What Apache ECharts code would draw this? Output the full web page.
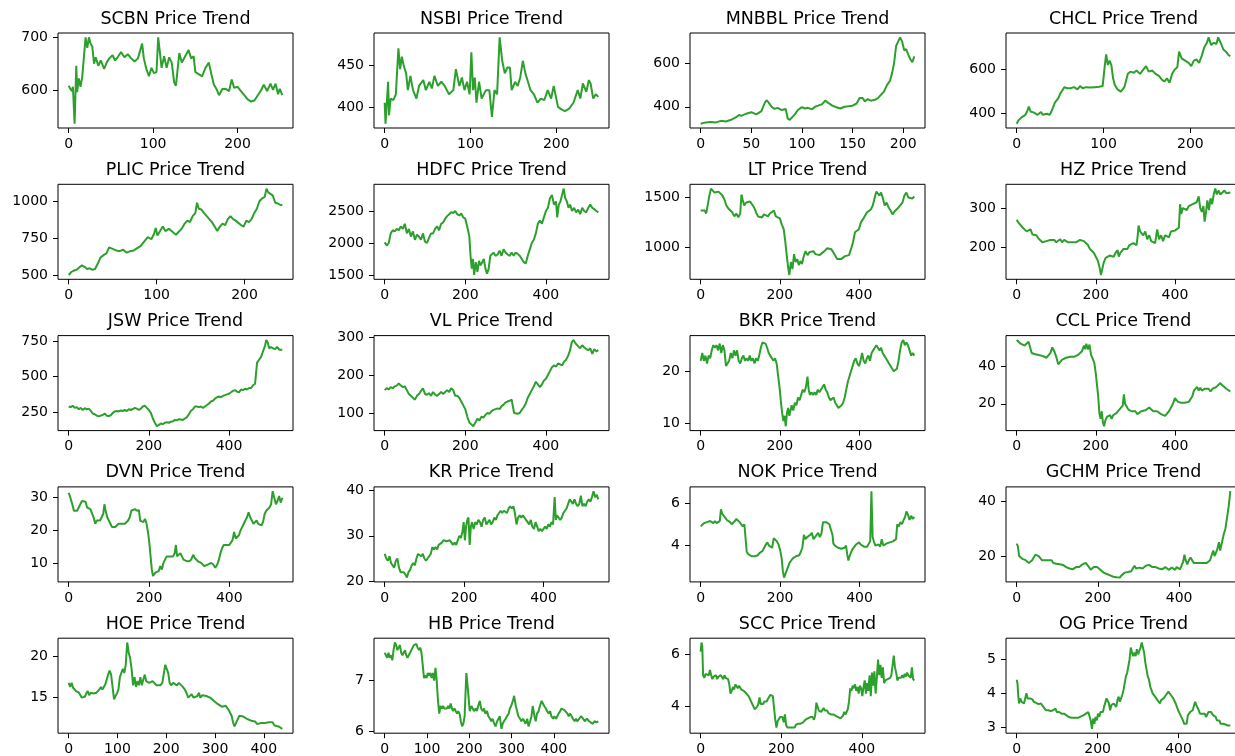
<!DOCTYPE html>
<html><head><meta charset="utf-8">
<script src="https://cdn.jsdelivr.net/npm/echarts@6/dist/echarts.min.js"></script>
<style>html,body{margin:0;padding:0;background:#fff}#c{width:1235px;height:756px}</style>
</head><body><div id="c"></div>
<script>
const tickers = ['SCBN','NSBI','MNBBL','CHCL','PLIC','HDFC','LT','HZ','JSW','VL','BKR','CCL','DVN','KR','NOK','GCHM','HOE','HB','SCC','OG'];

const scbn = [[0,608],[2,602],[4,598],[5,606],[7,536],[9,646],[10,596],[12,622],[14,606],[16,624],[18,622],[20,700],[22,680],[24,700],[26,688],[28,682],[30,650],[32,662],[35,646],[38,656],[42,640],[45,652],[48,660],[52,666],[55,656],[58,662],[62,672],[66,662],[70,668],[74,660],[78,654],[82,660],[87,688],[89,660],[92,640],[95,626],[98,642],[101,632],[104,634],[106,700],[108,672],[110,642],[113,664],[116,642],[119,662],[122,652],[125,614],[127,608],[131,670],[134,652],[138,664],[142,676],[145,660],[148,664],[150,634],[154,630],[158,626],[162,642],[166,652],[169,630],[172,610],[175,602],[178,590],[182,602],[186,602],[190,598],[193,620],[196,604],[200,606],[204,598],[208,590],[212,582],[216,578],[220,580],[224,590],[228,600],[231,610],[235,598],[239,612],[242,600],[245,612],[248,592],[250,602],[253,590]];
const nsbi = [[0,405],[1,380],[4,430],[5,390],[7,410],[10,408],[13,415],[16,470],[18,445],[20,460],[22,450],[25,440],[27,420],[30,437],[33,420],[37,410],[40,425],[45,432],[48,420],[52,430],[55,422],[58,437],[62,425],[66,430],[70,425],[75,415],[80,420],[83,445],[87,425],[90,435],[93,420],[96,430],[99,415],[101,465],[103,420],[105,435],[107,405],[110,430],[113,410],[118,420],[122,420],[125,388],[128,420],[131,415],[134,483],[137,455],[140,440],[143,447],[146,447],[148,420],[152,430],[155,425],[158,435],[161,455],[164,440],[167,430],[170,420],[174,415],[178,405],[182,410],[186,408],[190,420],[194,410],[197,425],[202,400],[206,397],[210,395],[215,398],[220,405],[225,420],[228,410],[231,428],[235,418],[238,432],[240,428],[243,410],[246,415],[249,412]];
const mnbbl = [[0,322],[5,328],[10,330],[15,328],[20,335],[25,332],[30,340],[35,352],[38,362],[40,358],[45,368],[50,375],[55,365],[60,380],[63,415],[65,430],[67,420],[70,400],[73,390],[76,395],[80,385],[84,390],[86,345],[88,340],[90,350],[93,365],[96,385],[100,398],[103,392],[106,395],[110,388],[113,400],[116,405],[120,412],[123,428],[126,418],[130,405],[134,398],[138,392],[142,400],[146,402],[150,405],[154,415],[157,440],[160,440],[162,425],[165,435],[168,428],[172,432],[175,440],[178,455],[181,470],[184,500],[187,520],[189,555],[191,600],[193,680],[195,700],[197,720],[199,700],[201,660],[203,665],[205,640],[207,620],[209,605],[211,632]];
const chcl = [[0,355],[2,370],[4,365],[6,385],[8,390],[10,395],[12,410],[14,432],[16,410],[18,415],[20,405],[22,410],[24,395],[26,390],[28,408],[30,395],[32,395],[35,400],[38,395],[40,410],[42,430],[44,450],[46,455],[48,470],[50,490],[52,495],[55,520],[58,515],[62,515],[66,520],[70,510],[73,525],[76,515],[80,520],[85,518],[90,520],[95,522],[99,525],[101,600],[103,668],[105,620],[107,640],[109,620],[111,560],[113,530],[116,510],[120,500],[124,520],[128,580],[131,590],[135,585],[138,595],[142,580],[146,600],[149,615],[152,590],[156,595],[160,580],[164,570],[167,555],[170,545],[173,560],[176,540],[179,580],[182,600],[185,610],[187,680],[190,650],[194,640],[198,630],[201,615],[204,640],[207,645],[210,630],[213,660],[216,700],[219,720],[221,745],[224,710],[227,720],[230,715],[232,745],[235,720],[238,690],[241,680],[244,665],[246,660]];
const plic = [[0,505],[3,525],[6,535],[9,540],[12,555],[15,570],[18,560],[21,545],[24,550],[27,540],[30,545],[33,580],[36,620],[40,640],[43,650],[46,690],[50,680],[54,670],[58,665],[62,675],[66,655],[70,665],[74,670],[78,685],[82,700],[86,730],[90,760],[94,745],[97,780],[99,820],[101,770],[104,800],[107,830],[110,800],[114,815],[118,795],[122,775],[126,800],[129,820],[132,850],[135,870],[138,860],[141,900],[144,920],[146,990],[148,950],[151,945],[154,920],[157,900],[160,880],[163,860],[166,830],[169,800],[172,830],[175,850],[178,840],[181,880],[184,900],[187,880],[190,870],[193,855],[196,840],[199,830],[202,870],[205,860],[208,880],[211,920],[214,950],[217,1000],[220,1020],[223,1030],[225,1085],[227,1060],[229,1070],[232,1040],[235,990],[238,985],[241,975],[243,975]];
const hdfc = [[0,2010],[5,1960],[10,2000],[15,2150],[20,2200],[25,2180],[30,2220],[35,2200],[40,2260],[45,2220],[50,2300],[55,2150],[60,2220],[65,2100],[70,2180],[75,2050],[80,2130],[85,2100],[90,2050],[95,2150],[100,2020],[105,2000],[110,2080],[115,2150],[120,2150],[125,2220],[130,2260],[135,2200],[140,2300],[145,2320],[150,2380],[155,2420],[160,2450],[165,2480],[170,2470],[175,2500],[180,2450],[185,2430],[190,2460],[195,2400],[200,2380],[205,2250],[210,2100],[213,1800],[216,1600],[219,1750],[222,1500],[226,1700],[230,1550],[234,1720],[238,1650],[242,1700],[246,1750],[250,1600],[254,1520],[258,1600],[262,1800],[266,1780],[270,1850],[275,1800],[280,1820],[285,1880],[290,1800],[295,1900],[300,1850],[305,1820],[310,1800],[315,1850],[320,1800],[325,1850],[330,1830],[335,1800],[340,1750],[345,1700],[350,1680],[355,1800],[360,1900],[365,2000],[370,2050],[375,2150],[380,2300],[385,2350],[390,2300],[395,2400],[400,2500],[405,2550],[410,2700],[415,2750],[420,2600],[425,2650],[428,2400],[432,2600],[436,2650],[440,2750],[444,2850],[448,2700],[452,2650],[456,2550],[460,2600],[465,2500],[470,2550],[475,2480],[480,2520],[485,2450],[490,2550],[495,2500],[500,2480],[505,2550],[510,2600],[515,2550],[520,2530],[525,2500],[530,2480]];
const lt = [[0,1370],[5,1365],[10,1370],[14,1340],[18,1360],[22,1520],[26,1590],[30,1570],[35,1550],[40,1540],[45,1560],[50,1580],[55,1520],[60,1480],[65,1420],[70,1390],[75,1370],[80,1350],[85,1310],[90,1340],[95,1300],[100,1340],[103,1530],[106,1480],[110,1420],[115,1450],[120,1470],[125,1460],[130,1440],[135,1400],[140,1350],[145,1310],[150,1320],[155,1300],[160,1330],[165,1320],[170,1310],[175,1340],[180,1320],[185,1370],[190,1310],[195,1320],[200,1290],[205,1230],[210,1180],[214,1050],[218,900],[221,800],[224,720],[228,850],[232,780],[236,930],[240,850],[244,880],[248,820],[252,860],[256,830],[260,900],[265,960],[270,920],[275,950],[280,930],[285,960],[290,930],[295,940],[300,920],[305,930],[310,950],[315,960],[320,990],[325,1010],[330,980],[335,950],[340,930],[345,880],[350,900],[355,880],[360,900],[365,910],[370,930],[375,920],[380,980],[385,1050],[390,1150],[395,1130],[400,1180],[405,1250],[410,1280],[415,1300],[420,1350],[425,1370],[430,1380],[435,1420],[440,1500],[444,1560],[448,1540],[452,1520],[456,1550],[460,1500],[465,1420],[470,1450],[475,1400],[480,1370],[485,1330],[490,1360],[495,1350],[500,1400],[505,1420],[510,1450],[515,1520],[520,1550],[525,1500],[530,1510],[535,1490],[540,1510]];
const hz = [[0,270],[5,262],[10,258],[15,250],[20,248],[25,240],[30,238],[35,245],[40,232],[45,228],[50,230],[55,222],[60,218],[65,212],[70,210],[75,215],[80,212],[85,218],[90,215],[95,218],[100,212],[105,215],[110,220],[115,212],[120,218],[125,215],[130,212],[135,215],[140,212],[145,210],[150,212],[155,215],[160,218],[165,220],[170,215],[175,215],[180,205],[185,195],[190,190],[195,185],[200,175],[205,165],[210,145],[213,128],[216,130],[220,160],[225,172],[230,170],[235,178],[240,180],[245,175],[250,185],[255,192],[258,175],[262,185],[266,180],[270,195],[275,200],[280,195],[285,205],[290,200],[295,210],[300,215],[303,205],[306,230],[308,255],[312,240],[316,235],[320,230],[325,240],[330,220],[335,230],[340,215],[345,220],[350,210],[355,245],[360,220],[365,230],[370,215],[375,230],[380,235],[385,225],[390,240],[395,245],[400,242],[405,240],[410,250],[413,310],[416,285],[420,300],[425,305],[430,295],[435,305],[440,300],[445,310],[450,305],[455,315],[460,330],[464,300],[468,290],[472,305],[475,265],[478,285],[482,320],[486,295],[490,325],[494,310],[498,335],[502,350],[506,335],[510,345],[515,335],[520,340],[525,345],[530,338],[535,342],[540,340]];
const jsw = [[0,290],[5,285],[10,295],[15,280],[20,285],[25,270],[30,280],[35,265],[40,278],[45,270],[50,275],[55,260],[60,240],[65,235],[70,225],[75,220],[80,225],[85,230],[90,240],[95,225],[100,222],[105,228],[110,245],[115,255],[120,258],[125,255],[130,262],[135,258],[140,265],[145,258],[150,270],[155,265],[160,272],[165,280],[170,275],[175,265],[180,275],[185,290],[190,295],[195,280],[200,265],[205,245],[210,205],[215,175],[220,150],[225,160],[230,170],[235,165],[240,175],[245,178],[250,175],[255,182],[260,185],[265,195],[270,192],[275,200],[280,198],[285,195],[290,205],[295,215],[300,235],[305,260],[310,270],[315,290],[320,290],[325,285],[330,290],[335,280],[340,290],[345,300],[350,310],[355,325],[360,330],[365,345],[370,355],[375,360],[380,355],[385,365],[390,370],[395,375],[400,380],[405,390],[410,400],[415,405],[420,395],[425,390],[430,410],[435,405],[440,415],[445,410],[450,420],[455,420],[460,440],[465,450],[470,600],[475,620],[480,640],[485,680],[490,720],[493,760],[497,740],[500,700],[505,710],[510,700],[515,695],[520,710],[523,720],[526,690],[530,680],[533,690]];
const vl = [[0,160],[5,165],[10,162],[15,168],[20,165],[25,170],[30,172],[35,178],[40,172],[45,168],[50,170],[55,160],[60,150],[65,145],[70,140],[75,135],[80,145],[85,150],[90,158],[95,165],[100,150],[105,148],[110,152],[115,145],[120,155],[125,148],[130,145],[135,150],[140,155],[145,150],[150,155],[155,160],[160,155],[165,165],[170,160],[175,145],[180,145],[185,140],[190,130],[195,120],[200,110],[205,90],[210,75],[215,70],[220,65],[225,75],[230,85],[235,80],[240,90],[245,88],[250,95],[255,100],[260,98],[265,105],[270,108],[275,110],[280,112],[285,110],[290,118],[295,122],[300,128],[305,130],[310,132],[315,135],[318,140],[321,100],[325,105],[330,98],[335,100],[340,108],[345,115],[350,125],[355,140],[360,150],[365,160],[370,170],[375,182],[380,175],[385,168],[390,175],[395,185],[400,190],[405,200],[410,210],[415,220],[420,225],[425,222],[430,230],[435,228],[440,225],[445,235],[450,240],[455,250],[460,265],[464,285],[468,292],[472,285],[476,280],[480,275],[485,270],[490,278],[495,272],[500,268],[505,265],[510,270],[515,255],[520,268],[525,262],[530,265]];
const bkr = [[0,22],[4,23.5],[8,22],[12,23],[16,21.5],[20,23],[24,22.5],[28,24],[32,25],[36,24.5],[40,25],[44,24],[48,25.3],[52,23.5],[56,25],[60,24],[64,21],[68,21],[72,22],[76,23.5],[80,22.5],[84,24],[88,23],[92,24],[96,22],[100,21.5],[104,22.5],[108,23],[112,22],[116,22.5],[120,22],[124,23],[128,22],[132,22.5],[136,21.5],[140,22.5],[144,22],[148,23],[152,24.5],[156,25.5],[160,25.8],[164,25.3],[168,24.5],[172,23.5],[176,23],[180,22.5],[184,22],[188,22.5],[192,21.5],[196,19],[200,16.5],[203,14],[206,12],[209,10.5],[212,11.5],[215,9.5],[218,12],[221,13],[224,11.5],[227,12.5],[230,13.5],[234,12.5],[238,14],[242,13.5],[246,15],[250,14.5],[254,15.5],[258,16.5],[262,16],[266,17],[270,19],[273,16.5],[276,15.5],[280,16],[284,15.5],[288,16],[292,15.5],[296,16.5],[300,16],[304,16.5],[308,17],[312,17.5],[316,16.5],[320,16],[324,15],[328,14.5],[332,14.5],[336,15],[340,14],[344,13.5],[348,13],[352,13],[356,13.5],[360,14],[364,15],[368,16.5],[372,18],[376,19],[380,20],[384,21],[388,22],[392,22.5],[396,21.5],[400,21],[404,22],[408,23.5],[412,22],[416,21.5],[420,22.5],[424,23],[428,22],[432,23.5],[436,24],[440,24.5],[444,25],[448,24.5],[452,24],[456,24.5],[460,23.5],[464,23],[468,22.5],[472,22],[476,21.5],[480,21],[484,20.5],[488,20],[492,20],[496,20.5],[500,22],[504,24],[508,25.5],[512,26],[516,25],[520,25.5],[524,25],[528,24],[532,23],[536,23.5],[540,23]];
const ccl = [[0,54],[5,53],[10,52],[15,53],[20,51],[25,52],[30,53],[35,52],[38,47],[45,46.5],[50,47],[55,46],[60,46.5],[65,45.5],[70,46],[75,44.5],[80,44],[85,47],[90,50],[95,48],[100,45],[105,41],[110,42],[115,43.5],[120,44],[125,44.5],[130,44],[135,45],[140,44.5],[145,45],[150,44],[155,46],[160,47],[165,48],[170,51],[173,49],[176,52],[180,49],[184,51.5],[188,46],[192,45],[196,42],[200,36],[203,30],[206,24],[209,15],[212,12],[215,16],[218,10],[221,8],[224,11],[228,13],[232,12],[236,14],[240,12],[244,14],[248,13],[252,15],[256,16],[260,17],[264,18],[268,19],[271,25],[274,20],[278,18.5],[282,17],[286,16.5],[290,16],[295,15],[300,16],[305,14.5],[310,15],[315,16],[320,15.5],[325,16.5],[330,17],[335,18],[340,17],[345,16],[350,15.5],[355,16],[360,15],[365,14.5],[370,15.5],[375,13.5],[380,14.5],[385,16],[390,18],[395,20],[400,23],[404,22],[408,21],[412,21.5],[416,20.5],[420,21],[425,20.5],[430,20],[435,21],[440,22],[444,24],[448,27],[452,28],[456,29],[460,27],[464,28.5],[468,27],[472,26],[476,28],[480,27.5],[485,28],[490,26.5],[495,28],[500,27],[505,29],[510,30],[514,31],[518,30],[522,29.5],[526,28.5],[530,28],[535,27],[540,26.5]];
const dvn = [[0,31.5],[3,30.5],[6,31],[9,28],[13,26],[17,25.5],[21,26],[25,26.5],[29,28],[33,29],[37,28.5],[42,28.8],[46,27],[50,27.5],[54,26.5],[58,26],[62,24],[66,22],[70,23],[74,22.5],[78,23],[82,24],[86,25],[89,28],[92,26],[96,24],[100,23],[104,22],[108,21],[112,20.5],[116,21],[120,21.5],[124,22],[128,22.5],[132,22],[136,22.5],[140,22],[144,22.5],[148,23],[152,24],[156,26],[160,26.5],[165,26.5],[170,26],[175,26.2],[178,23],[182,23.5],[186,22.5],[190,23.5],[194,22],[198,19],[201,16],[204,15.5],[207,8],[210,6],[213,5.5],[216,7],[220,6.5],[224,7.5],[228,9],[232,8],[236,10],[240,11],[244,12],[248,12.5],[252,12],[256,12.5],[260,12],[264,13],[267,15.5],[270,12],[274,12.5],[278,13],[282,12],[286,11],[290,11],[295,10.5],[300,10.5],[305,11],[310,12.5],[314,11.5],[318,11],[322,10.5],[326,10],[330,10],[334,9.5],[338,9],[342,9.5],[346,9.5],[350,10],[355,10],[360,9.5],[365,8.5],[370,9.5],[374,11],[378,13],[382,14.5],[386,15.5],[390,16],[395,15.5],[400,15.5],[404,16],[408,17],[412,19.5],[416,17.5],[420,17],[424,18.5],[428,20],[432,21],[436,22],[440,22.5],[444,24],[448,25.5],[452,24],[456,23],[460,22],[464,22.5],[468,23],[472,22],[476,22],[480,21.5],[484,22.5],[488,25],[492,26],[496,26.5],[500,27],[504,28],[508,32],[512,30],[516,28],[520,29],[524,30.5],[528,28.5],[532,30]];
const kr = [[0,26],[4,25],[8,24.5],[12,25.5],[16,24],[20,23.5],[24,23],[28,24.5],[32,25],[36,23],[40,22],[44,21.8],[48,22],[52,21.5],[56,20.8],[60,22],[64,22.5],[68,23.5],[72,24],[76,23.5],[80,25],[84,26],[88,26],[92,25.5],[96,26],[100,25],[104,24.5],[108,25],[112,25.5],[116,26],[120,27.5],[124,27],[128,27.5],[132,27],[136,28],[140,28],[144,28.5],[148,29],[152,29],[156,28.8],[160,28.5],[164,29],[168,28.5],[172,28],[176,28.5],[180,28],[184,29],[188,30],[192,29.5],[196,31],[199,33],[202,29],[205,32],[208,33.5],[211,34],[214,28],[217,32],[220,33],[224,31.5],[228,33],[232,32.5],[236,33.5],[240,33],[244,32],[248,33.5],[252,34],[256,32.5],[260,33],[264,33.5],[268,32.5],[272,33],[276,34],[280,33.5],[284,34.5],[288,35],[292,35.5],[296,35],[300,35.5],[304,35.8],[308,35],[312,36],[316,36.5],[320,36],[324,36.5],[328,35],[332,32.5],[336,34],[340,34.5],[344,34],[348,34.5],[352,34],[356,33.5],[360,33],[364,32.5],[368,33.5],[372,32],[376,31.5],[380,33],[384,32],[388,31],[392,31.5],[396,31],[400,31.5],[404,32],[408,31.5],[412,32.5],[416,32],[420,33],[424,32.5],[428,38.5],[431,33.5],[434,34.5],[438,34],[442,33.5],[446,34],[450,35],[454,35.5],[458,36],[462,37],[466,38],[470,37.5],[474,37],[478,38],[482,37],[486,36.5],[490,37],[494,38.8],[498,36.5],[502,37],[506,36.5],[510,37.5],[514,38],[518,37.5],[522,38.5],[526,39.8],[530,38.5],[534,39],[538,38]];
const nok = [[0,4.9],[4,4.85],[8,5.05],[12,5.0],[16,5.1],[20,5.05],[24,5.15],[28,5.1],[32,5.05],[36,5.15],[40,5.05],[44,5.1],[48,5.15],[51,5.7],[54,5.5],[58,5.4],[62,5.3],[66,5.2],[70,5.25],[74,5.1],[78,5.0],[82,5.05],[86,5.15],[90,5.25],[94,5.2],[98,5.1],[102,5.0],[106,4.9],[110,5.0],[113,4.95],[116,3.7],[120,3.6],[124,3.6],[128,3.5],[132,3.45],[136,3.5],[140,3.5],[144,3.55],[148,3.65],[152,3.7],[156,3.75],[160,3.9],[164,4.05],[168,4.15],[172,4.0],[176,4.05],[180,3.9],[184,4.35],[188,4.4],[192,4.2],[196,4.05],[200,3.8],[204,3.4],[207,2.8],[210,2.5],[213,2.55],[216,2.8],[220,3.0],[224,3.2],[228,3.3],[232,3.4],[236,3.45],[240,3.5],[244,3.55],[248,3.55],[252,3.7],[256,3.9],[260,4.5],[264,4.3],[268,4.4],[272,4.35],[276,4.5],[280,4.6],[284,4.3],[288,4.4],[292,4.5],[296,4.6],[300,4.4],[304,4.55],[308,5.1],[312,5.05],[316,5.1],[320,5.05],[324,5.0],[328,4.95],[332,4.5],[334,4.1],[338,4.0],[342,3.95],[346,3.9],[350,3.85],[354,3.85],[358,3.8],[362,3.9],[366,4.0],[369,3.6],[372,3.3],[375,3.5],[379,3.7],[383,3.85],[387,3.95],[391,4.05],[395,4.1],[399,4.15],[403,4.05],[407,4.0],[411,3.95],[415,4.0],[419,3.95],[423,4.0],[427,4.2],[430,6.55],[433,4.4],[436,4.2],[440,4.0],[444,3.95],[448,4.05],[452,3.95],[456,4.3],[460,4.0],[464,4.05],[468,4.1],[472,4.05],[476,4.15],[480,4.1],[484,4.2],[488,4.25],[492,4.3],[495,5.0],[499,4.9],[503,5.1],[507,5.0],[511,5.2],[515,5.35],[518,5.6],[522,5.45],[526,5.2],[530,5.4],[534,5.25],[538,5.35]];
const gchm = [[0,24.5],[3,23.5],[6,20],[10,19.5],[14,19],[18,19.5],[22,18.5],[26,18],[30,17.5],[34,17],[38,18.5],[42,19.5],[46,20.5],[50,21],[54,20],[58,19.5],[62,18.5],[66,18],[70,18.5],[74,19],[78,18.5],[82,18],[86,18.5],[90,17.5],[94,17],[98,17.2],[102,16.5],[106,17],[110,16.5],[114,16.8],[118,16.5],[122,16],[126,16.2],[130,15.5],[134,15],[138,15.2],[142,15.5],[146,16],[150,15.5],[154,16],[158,16.5],[162,17],[166,17.5],[170,17.5],[174,17],[178,16],[182,15],[186,15.5],[190,16],[194,15.5],[198,16],[202,15.5],[206,15],[210,14.5],[214,14],[218,14.2],[222,13.5],[226,13.8],[230,13],[234,13.2],[238,12.5],[242,12.8],[246,12.3],[250,12.5],[254,12.2],[258,13],[262,13.5],[266,14],[270,14.5],[274,14.2],[278,14],[282,14.5],[286,15],[290,16.5],[294,15.5],[298,15.2],[302,15.8],[306,16],[310,15.5],[314,16],[318,16.5],[322,17],[326,16.8],[330,16.5],[334,16],[338,16.5],[342,16],[346,15.5],[350,15.5],[354,15],[358,15.2],[362,15.5],[366,16],[370,15.5],[374,15],[378,15.3],[382,15.8],[386,15.2],[390,15],[394,16],[398,16.5],[402,15.2],[406,16.5],[410,18],[413,20.5],[416,18.5],[420,17],[424,18.5],[428,19.5],[432,18.5],[436,17.5],[440,17],[444,17.5],[448,17],[452,17.5],[456,17.8],[460,17.5],[464,18],[468,17.5],[472,18],[476,18.5],[480,18],[484,22],[487,20],[490,21],[494,22.5],[498,25],[501,22],[504,24],[507,26],[510,28],[514,30],[518,34],[522,38],[526,43.5]];
const hoe = [[0,16.8],[3,16.3],[6,16.8],[9,16.2],[12,16.0],[15,15.8],[18,16.0],[21,15.6],[24,15.3],[27,15.0],[30,14.8],[33,15.1],[36,15.5],[39,15.8],[42,15.3],[45,15.6],[48,15.8],[51,15.5],[54,15.3],[57,15.6],[60,15.8],[63,16.0],[66,16.3],[69,16.0],[72,16.3],[75,16.6],[78,17.2],[81,17.8],[84,18.3],[87,17.8],[90,17.6],[93,14.8],[96,15.2],[99,15.5],[102,16.0],[105,17.5],[108,18.0],[111,18.5],[114,18.0],[117,19.0],[120,21.7],[123,20.5],[126,19.8],[129,18.5],[132,16.5],[135,17.5],[138,16.3],[141,17.0],[144,16.5],[147,17.5],[150,16.5],[153,17.2],[156,17.8],[159,17.0],[162,17.2],[165,16.8],[168,16.7],[172,17.0],[176,16.8],[180,16.5],[184,16.7],[188,16.5],[192,16.8],[195,17.0],[198,19.0],[201,18.5],[204,18.0],[207,16.8],[210,16.5],[214,16.8],[218,16.6],[222,16.5],[226,16.8],[230,16.6],[234,16.3],[238,16.0],[242,15.5],[245,15.0],[248,15.2],[252,15.4],[256,15.0],[260,14.8],[264,15.2],[267,15.6],[270,15.0],[274,15.3],[278,15.1],[282,15.2],[286,15.0],[290,15.0],[294,14.8],[298,14.6],[302,14.5],[306,14.2],[310,14.0],[314,13.9],[318,13.8],[322,14.0],[325,13.9],[328,13.5],[331,13.3],[334,12.8],[337,12.0],[340,11.5],[343,11.9],[346,12.3],[350,12.8],[354,13.0],[358,12.7],[362,12.5],[366,12.4],[370,12.2],[374,12.2],[378,12.0],[382,12.1],[386,11.8],[390,11.8],[394,11.9],[398,12.0],[402,11.9],[406,11.9],[410,12.0],[414,12.1],[418,12.0],[422,11.6],[426,11.7],[430,11.5],[434,11.6],[438,11.2]];
const hb = [[0,7.55],[3,7.5],[6,7.45],[9,7.55],[12,7.45],[15,7.5],[18,7.4],[21,7.6],[24,7.75],[27,7.7],[30,7.6],[33,7.65],[36,7.7],[39,7.55],[42,7.5],[45,7.55],[48,7.6],[51,7.5],[54,7.45],[57,7.45],[60,7.55],[63,7.6],[66,7.65],[69,7.7],[72,7.68],[75,7.72],[78,7.65],[81,7.6],[84,7.65],[87,7.55],[90,7.3],[93,7.05],[96,7.1],[99,7.05],[102,7.15],[105,7.1],[108,7.15],[111,7.05],[114,7.15],[117,7.0],[120,7.25],[123,7.0],[126,6.6],[129,6.35],[132,6.5],[135,6.45],[138,6.5],[141,6.45],[144,6.42],[147,6.45],[150,6.5],[153,6.45],[156,6.55],[159,6.45],[162,6.4],[165,6.45],[168,6.4],[171,6.35],[174,6.4],[177,6.35],[180,6.2],[183,6.1],[186,6.15],[189,6.3],[193,7.15],[196,6.9],[199,6.6],[201,6.4],[205,6.5],[208,6.45],[211,6.4],[215,6.45],[218,6.4],[221,6.5],[225,6.6],[228,6.45],[232,6.4],[235,6.45],[238,6.35],[242,6.4],[245,6.3],[249,6.25],[252,6.2],[255,6.25],[259,6.15],[262,6.1],[266,6.2],[269,6.25],[272,6.3],[276,6.05],[279,6.15],[282,6.2],[286,6.25],[289,6.3],[293,6.35],[296,6.45],[299,6.5],[303,6.6],[306,6.7],[310,6.5],[313,6.4],[316,6.3],[320,6.25],[323,6.2],[327,6.25],[330,6.2],[333,6.15],[337,6.25],[340,6.1],[344,6.2],[347,6.3],[350,6.5],[354,6.3],[357,6.2],[360,6.35],[364,6.4],[367,6.5],[371,6.6],[374,6.55],[377,6.5],[381,6.45],[384,6.4],[388,6.35],[391,6.4],[394,6.3],[398,6.25],[401,6.3],[405,6.25],[408,6.3],[411,6.35],[415,6.4],[418,6.45],[421,6.45],[425,6.42],[428,6.4],[432,6.35],[435,6.3],[438,6.35],[442,6.3],[445,6.25],[449,6.2],[452,6.25],[455,6.2],[460,6.25],[464,6.3],[469,6.25],[473,6.2],[478,6.25],[483,6.2],[487,6.18],[492,6.15],[496,6.2],[501,6.18],[505,6.2]];
const scc = [[0,6.1],[2,6.45],[4,6.3],[6,5.2],[9,5.1],[12,5.25],[16,5.3],[20,5.2],[23,5.4],[26,5.2],[29,5.05],[32,5.15],[35,5.1],[38,5.2],[41,5.05],[44,5.15],[47,5.1],[50,5.2],[53,5.15],[56,5.05],[59,5.2],[62,5.1],[65,5.15],[68,5.05],[71,4.85],[74,4.5],[77,4.6],[80,4.75],[83,4.65],[86,4.85],[89,4.8],[92,4.7],[95,4.8],[98,4.75],[101,4.65],[104,4.6],[107,4.6],[110,4.55],[113,4.5],[116,4.45],[119,4.4],[122,4.3],[125,4.2],[128,4.1],[131,4.0],[134,3.9],[137,3.85],[140,4.0],[143,4.1],[146,4.35],[149,4.1],[152,4.15],[155,4.1],[158,4.2],[161,4.15],[164,4.2],[167,4.3],[170,4.35],[173,4.45],[176,4.5],[179,4.4],[182,4.35],[185,3.5],[188,3.2],[191,3.45],[194,3.5],[197,3.6],[200,3.55],[203,3.6],[206,3.4],[209,3.7],[212,3.3],[215,3.2],[218,3.15],[221,3.2],[224,3.15],[227,3.2],[230,3.25],[233,3.2],[236,3.3],[239,3.25],[242,3.35],[245,3.3],[248,3.35],[251,3.3],[254,3.4],[257,3.35],[260,3.5],[263,3.45],[266,3.55],[269,3.5],[272,3.6],[275,3.55],[278,3.6],[281,3.5],[284,3.65],[287,4.15],[290,4.0],[293,3.85],[296,3.9],[299,3.8],[302,3.85],[305,3.95],[308,3.85],[311,3.8],[314,3.85],[317,3.75],[320,3.8],[323,3.7],[326,3.75],[329,3.7],[332,3.75],[335,3.65],[338,3.7],[341,3.6],[344,3.65],[347,3.55],[350,3.5],[353,3.65],[356,3.8],[359,3.7],[362,3.75],[365,3.9],[368,4.2],[371,4.7],[374,4.6],[377,4.8],[380,4.7],[383,4.85],[386,4.6],[389,4.75],[392,4.5],[395,4.8],[398,4.7],[401,4.4],[404,4.75],[407,5.0],[410,4.5],[413,4.9],[416,4.6],[419,5.2],[422,4.4],[425,5.3],[428,4.8],[431,5.35],[434,4.5],[437,5.1],[440,5.8],[443,5.2],[446,5.6],[449,5.1],[452,5.5],[455,4.9],[458,5.0],[461,4.95],[464,5.05],[467,5.0],[470,5.1],[473,5.2],[476,5.15],[479,5.95],[482,5.5],[485,5.3],[488,5.0],[491,5.1],[494,5.05],[497,5.1],[500,5.2],[503,5.1],[506,5.25],[509,5.15],[512,5.3],[515,5.2],[518,5.25],[521,5.1],[524,5.5],[527,5.05],[530,5.0]];
const og = [[0,4.4],[2,4.3],[4,3.9],[6,3.7],[9,3.85],[12,3.75],[15,3.8],[18,3.7],[21,3.85],[24,4.0],[27,3.85],[30,3.8],[33,3.85],[36,3.8],[39,3.82],[42,3.75],[45,3.78],[48,3.72],[51,3.7],[54,3.68],[57,3.65],[60,3.7],[63,3.65],[66,3.6],[69,3.55],[72,3.5],[75,3.45],[78,3.5],[81,3.45],[84,3.48],[87,3.45],[90,3.5],[93,3.5],[96,3.55],[99,3.45],[102,3.48],[105,3.45],[108,3.42],[111,3.4],[114,3.45],[117,3.4],[120,3.38],[123,3.35],[126,3.35],[129,3.3],[132,3.3],[135,3.28],[138,3.3],[141,3.28],[144,3.27],[147,3.28],[150,3.3],[153,3.28],[156,3.3],[159,3.32],[162,3.3],[165,3.35],[168,3.35],[171,3.4],[174,3.42],[177,3.45],[180,3.4],[183,3.2],[186,2.95],[189,3.25],[192,3.1],[195,3.3],[198,3.2],[201,3.4],[204,3.3],[207,3.45],[210,3.5],[213,3.45],[216,3.6],[219,3.65],[222,3.85],[225,3.9],[228,3.7],[231,3.5],[234,3.65],[237,3.6],[240,3.7],[243,3.75],[246,3.6],[249,3.8],[252,3.9],[255,3.75],[258,3.85],[261,3.95],[264,4.1],[267,4.3],[270,4.5],[273,4.6],[276,4.8],[279,5.0],[282,5.35],[285,5.2],[288,5.1],[291,5.2],[294,5.1],[297,5.3],[300,5.15],[303,5.25],[306,5.35],[309,5.5],[312,5.35],[315,5.2],[318,4.9],[321,4.7],[324,4.5],[327,4.4],[330,4.2],[333,4.1],[336,4.0],[339,3.95],[342,3.9],[345,3.85],[348,3.8],[351,3.75],[354,3.7],[357,3.8],[360,3.75],[363,3.85],[366,3.9],[369,3.95],[372,4.0],[375,4.05],[378,4.0],[381,3.95],[384,3.9],[387,3.85],[390,3.9],[393,3.7],[396,3.6],[399,3.5],[402,3.45],[405,3.35],[408,3.3],[411,3.2],[414,3.1],[417,3.05],[420,3.1],[423,3.35],[426,3.4],[429,3.45],[432,3.4],[435,3.5],[438,3.55],[441,3.75],[444,3.65],[447,3.6],[450,3.5],[453,3.4],[456,3.35],[459,3.4],[462,3.45],[465,3.4],[468,3.3],[471,3.35],[474,3.45],[477,3.5],[480,3.45],[483,3.4],[486,3.35],[489,3.3],[492,3.3],[495,3.2],[498,3.15],[501,3.2],[504,3.1],[507,3.15],[510,3.1],[513,3.12],[516,3.08],[519,3.1],[522,3.05],[525,3.08],[528,3.05]];

const xTicks = [[0,100,200],[0,100,200],[0,50,100,150,200],[0,100,200],[0,100,200],[0,200,400],[0,200,400],[0,200,400],[0,200,400],[0,200,400],[0,200,400],[0,200,400],[0,200,400],[0,200,400],[0,200,400],[0,200,400],[0,100,200,300,400],[0,100,200,300,400],[0,200,400],[0,200,400]];
const yTicks = [[600,700],[400,450],[400,600],[400,600],[500,750,1000],[1500,2000,2500],[1000,1500],[200,300],[250,500,750],[100,200,300],[10,20],[20,40],[10,20,30],[20,30,40],[4,6],[20,40],[15,20],[6,7],[4,6],[3,4,5]];

const allData = [scbn,nsbi,mnbbl,chcl,plic,hdfc,lt,hz,jsw,vl,bkr,ccl,dvn,kr,nok,gchm,hoe,hb,scc,og];

const FONT = 'DejaVu Sans';
const grids=[], xAxes=[], yAxes=[], titles=[], series=[];
allData.forEach((d,i)=>{
  const r=Math.floor(i/4), c=i%4;
  const left=58+316*c, top=33+151.3*r, W=235, H=95;
  grids.push({left:left, top:top, width:W, height:H, show:true, borderColor:'#000', borderWidth:1, backgroundColor:'transparent', containLabel:false, outerBoundsMode:'none'});
  const xs=d.map(p=>p[0]), ys=d.map(p=>p[1]);
  const x0=Math.min(...xs), x1=Math.max(...xs), y0=Math.min(...ys), y1=Math.max(...ys);
  const dx=(x1-x0)*0.05, dy=(y1-y0)*0.05;
  const lab={color:'#000', fontSize:14, fontFamily:FONT, formatter:v=>String(v)};
  xAxes.push({type:'value', gridIndex:i, position:'bottom', min:x0-dx, max:x1+dx, splitLine:{show:false}, axisLine:{show:false, onZero:false},
    axisTick:{show:true, inside:false, length:5, lineStyle:{color:'#000', width:1}, customValues:xTicks[i]},
    axisLabel:Object.assign({margin:9, customValues:xTicks[i]}, lab)});
  yAxes.push({type:'value', gridIndex:i, position:'left', min:y0-dy, max:y1+dy, splitLine:{show:false}, axisLine:{show:false, onZero:false},
    axisTick:{show:true, inside:false, length:5, lineStyle:{color:'#000', width:1}, customValues:yTicks[i]},
    axisLabel:Object.assign({margin:10, customValues:yTicks[i]}, lab)});
  titles.push({text:tickers[i]+' Price Trend', left:left+W/2, top:top-23, textAlign:'center', padding:0,
    textStyle:{fontSize:17.5, fontWeight:'normal', color:'#000', fontFamily:FONT}});
  series.push({type:'line', xAxisIndex:i, yAxisIndex:i, data:d, showSymbol:false, symbol:'none',
    lineStyle:{color:'#2ca02c', width:2}, itemStyle:{color:'#2ca02c'}, animation:false});
});

const chart = echarts.init(document.getElementById('c'), null, {renderer:'canvas'});
chart.setOption({backgroundColor:'#fff', animation:false, title:titles, grid:grids, xAxis:xAxes, yAxis:yAxes, series:series});
</script></body></html>
